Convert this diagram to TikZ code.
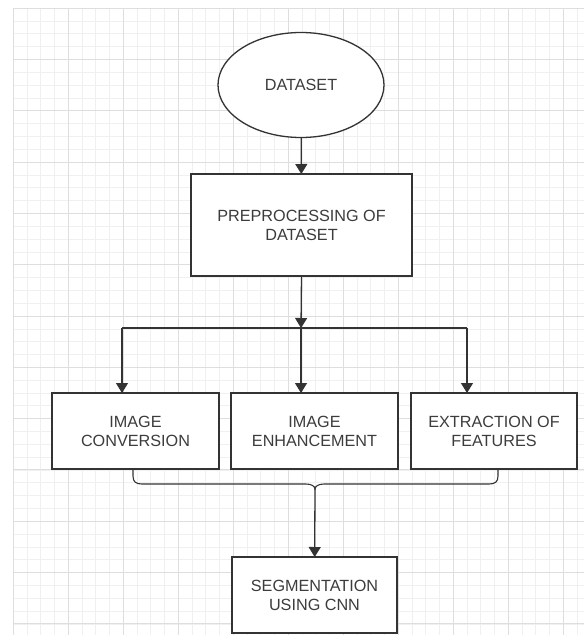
\documentclass[tikz,border=0pt]{standalone}
\usepackage{fontspec}
\setmainfont{Liberation Sans}
\usetikzlibrary{shapes.geometric,arrows.meta}
\definecolor{inkgray}{HTML}{333333}
\definecolor{textgray}{HTML}{3C3C3C}
\definecolor{gridmajor}{HTML}{DEDEDE}
\definecolor{gridminor}{HTML}{F0F0F0}
\begin{document}
\begin{tikzpicture}[y=1pt, x=1pt, yscale=-1, xscale=1, inner sep=0pt, outer sep=0pt,
  line/.style={draw=inkgray, line width=1.3pt},
  arr/.style={line, -{Triangle[length=10pt,width=12pt]}},
  stage/.style={line, fill=white, rectangle, align=center, text=textgray,
    font=\fontsize{16.2}{19}\selectfont},
  source/.style={stage, ellipse, minimum width=166, minimum height=105}]
\useasboundingbox (0,0) rectangle (584,635);
\fill[white] (0,0) rectangle (584,635);
% background grid
\begin{scope}[shift={(13,8)}]
\draw[gridminor, line width=0.5pt, xstep=13.75, ystep=12.83] (0,0) grid (571,627);
\draw[gridmajor, line width=0.6pt, xstep=55, ystep=51.3] (0,0) grid (571,627);
\end{scope}

% stages
\node[source] (data) at (301,85) {DATASET};
\node[stage, minimum width=221, minimum height=102] (prep) at (301.5,225)
  {PREPROCESSING OF\\DATASET};
\node[stage, minimum width=167, minimum height=76] (conv) at (135.5,431)
  {IMAGE\\CONVERSION};
\node[stage, minimum width=167, minimum height=76] (enh) at (314.5,431)
  {IMAGE\\ENHANCEMENT};
\node[stage, minimum width=166, minimum height=76] (feat) at (494,431)
  {EXTRACTION OF\\FEATURES};
\node[stage, minimum width=165, minimum height=76] (seg) at (314.5,595)
  {SEGMENTATION\\USING CNN};

% connectors
\coordinate (split) at (301,328);
\coordinate (splitL) at (122,328);
\coordinate (splitR) at (467,328);
\coordinate (braceTip) at (315,489);
\draw[arr] (data) -- (prep);
\draw[arr] (prep.south) -- (split);
\draw[line] (splitL) -- (splitR);
\draw[arr] (splitL) -- (splitL |- conv.north);
\draw[arr] (split) -- (split |- enh.north);
\draw[arr] (splitR) -- (splitR |- feat.north);
\draw[line, line width=1.1pt] (133,469) -- (133,476) .. controls (133,482) and (136,484) .. (142,484)
  -- (306,484) .. controls (311,484) and (315,486) .. (braceTip)
  .. controls (315,486) and (319,484) .. (324,484)
  -- (489,484) .. controls (495,484) and (498,482) .. (498,476) -- (498,469);
\draw[arr] (braceTip) -- (seg);

\end{tikzpicture}
\end{document}
